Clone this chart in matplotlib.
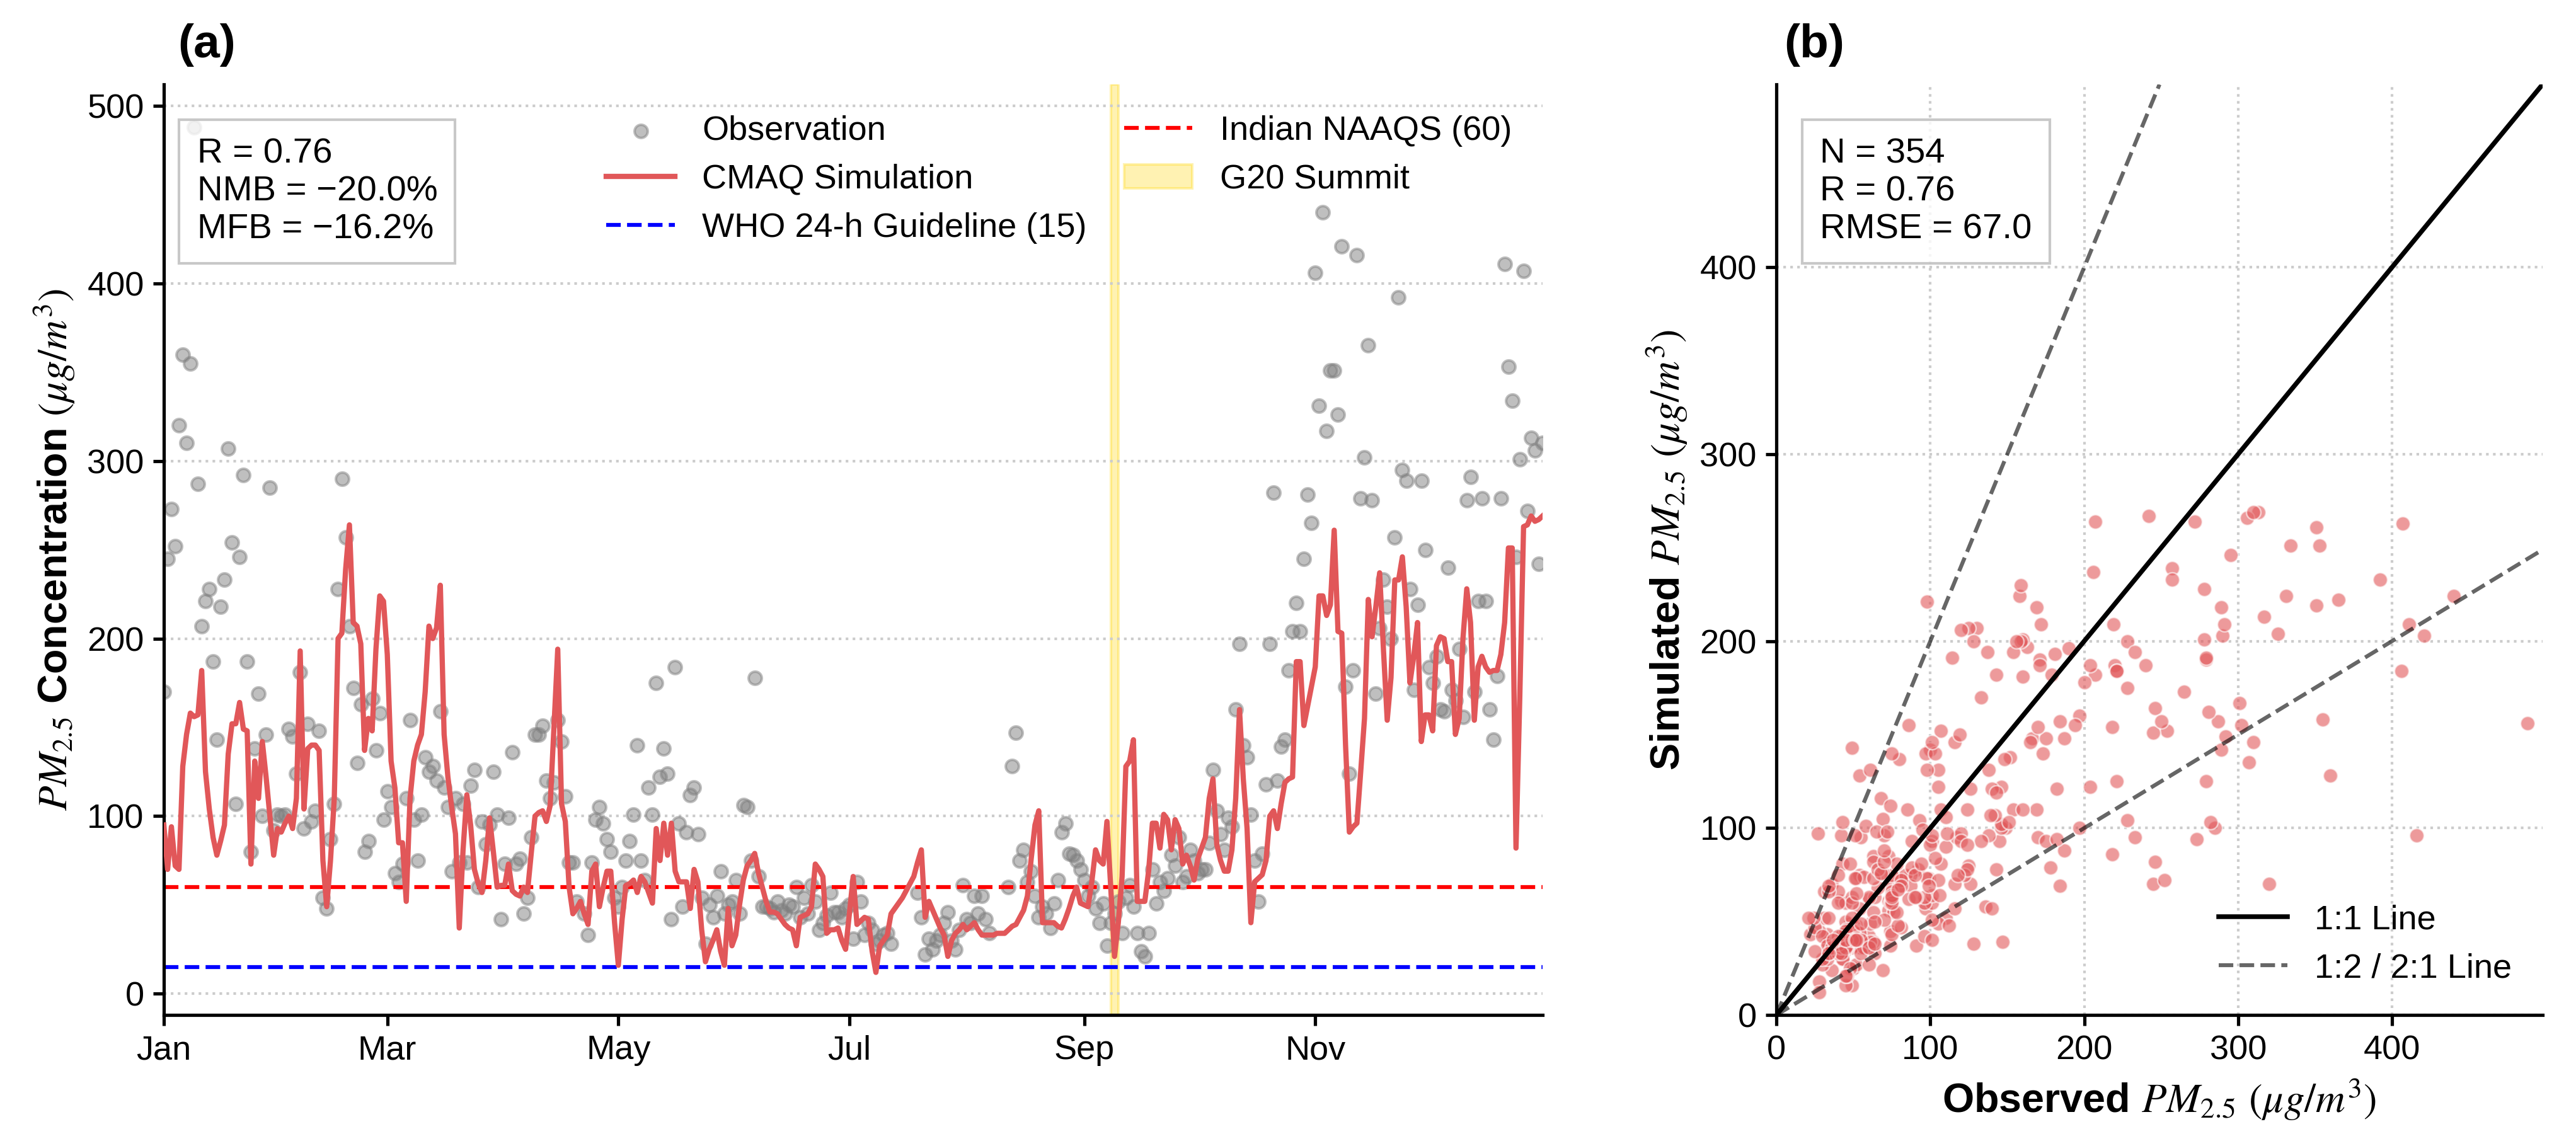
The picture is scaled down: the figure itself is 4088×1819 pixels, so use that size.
import numpy as np
import pandas as pd
import matplotlib
matplotlib.use('Agg')
import matplotlib.pyplot as plt
import matplotlib.dates as mdates

plt.rcParams['font.family'] = ['Liberation Sans', 'DejaVu Sans']
plt.rcParams['mathtext.fontset'] = 'stix'

nan = np.nan

# daily dates (2023)
dates = pd.date_range('2023-01-01', '2023-12-31', freq='D')

# CMAQ simulated daily PM2.5 (ug/m3)
sim = [
    95, 70, 94, 72, 70, 128, 146, 158, 156, 157,
    182, 125, 104, 88, 78, 86, 95, 135, 152, 152,
    164, 149, 148, 73, 131, 110, 142, 122, 100, 78,
    93, 91, 96, 100, 93, 110, 193, 104, 138, 140,
    140, 137, 75, 49, 75, 110, 200, 203, 239, 264,
    209, 207, 197, 137, 155, 148, 194, 224, 221, 191,
    131, 116, 85, 85, 52, 110, 131, 140, 146, 170,
    207, 200, 206, 230, 146, 122, 105, 90, 37, 81,
    112, 95, 70, 62, 57, 75, 99, 80, 60, 61,
    61, 73, 58, 56, 55, 60, 57, 79, 100, 102,
    103, 97, 106, 150, 194, 107, 97, 60, 45, 48,
    52, 45, 39, 69, 73, 49, 60, 69, 69, 40,
    16, 42, 61, 62, 64, 57, 66, 63, 57, 51,
    93, 75, 96, 78, 96, 69, 63, 63, 63, 48,
    70, 63, 36, 18, 25, 30, 36, 24, 16, 48,
    27, 33, 50, 64, 72, 75, 79, 68, 60, 52,
    46, 46, 45, 42, 39, 37, 36, 27, 43, 44,
    45, 49, 73, 70, 66, 34, 36, 36, 37, 30,
    25, 45, 66, 39, 41, 43, 42, 24, 12, 27,
    30, 33, 45, 48, 51, 54, 58, 62, 66, 74,
    81, 43, 52, 47, 42, 37, 33, 21, 30, 34,
    36, 39, 36, 38, 40, 36, 33, 33, 33, 33,
    34, 34, 34, 36, 38, 39, 43, 47, 55, 76,
    95, 103, 40, 40, 40, 40, 38, 37, 42, 48,
    55, 60, 51, 50, 49, 63, 81, 75, 73, 97,
    60, 21, 40, 66, 128, 131, 143, 52, 52, 52,
    69, 96, 96, 82, 101, 98, 81, 98, 93, 73,
    78, 72, 64, 76, 82, 88, 110, 121, 84, 75,
    69, 69, 81, 110, 160, 121, 93, 40, 63, 65,
    67, 75, 100, 103, 93, 107, 119, 121, 122, 187,
    187, 151, 162, 173, 184, 224, 224, 213, 219, 261,
    204, 203, 140, 91, 94, 96, 125, 155, 222, 201,
    218, 237, 194, 154, 178, 233, 233, 246, 218, 175,
    190, 209, 142, 157, 157, 148, 196, 201, 200, 187,
    187, 146, 155, 200, 228, 209, 154, 184, 190, 184,
    181, 182, 182, 191, 209, 251, 251, 82, 167, 263,
    264, 269, 266, 267, 269,
]

# observed daily PM2.5 (ug/m3), nan = missing
obs = [
    170, 245, 273, 252, 320, 360, 310, 355, 488, 287,
    207, 221, 228, 187, 143, 218, 233, 307, 254, 107,
    246, 292, 187, 80, 138, 169, 100, 146, 285, 92,
    101, 100, 101, 149, 145, 124, 181, 93, 152, 97,
    103, 148, 54, 48, 87, 107, 228, 290, 257, 207,
    172, 130, 163, 80, 86, 166, 137, 158, 98, 114,
    105, 68, 63, 73, 110, 154, 98, 75, 101, 133,
    125, 128, 120, 159, 116, 105, 69, 110, 74, 107,
    74, 117, 126, 60, 97, 84, 95, 125, 101, 42,
    73, 99, 136, 73, 76, 45, 54, 88, 146, 146,
    151, 120, 110, 119, 154, 142, 111, 74, 74, 52,
    nan, 45, 33, 74, 98, 105, 96, 87, 80, 54,
    49, 60, 75, 86, 101, 140, 75, 64, 116, 101,
    175, 122, 138, 124, 42, 184, 96, 49, 91, 112,
    116, 90, 54, 28, 50, 43, 55, 69, 45, 50,
    52, 64, 45, 106, 105, 75, 178, 66, 49, 49,
    48, 46, 52, 47, 45, 50, 49, 60, 43, 54,
    45, 61, 52, 36, 40, 44, 57, 46, 46, 43,
    48, 50, 31, 63, 52, 33, 40, 36, 28, 30,
    33, 34, 28, nan, nan, nan, nan, nan, nan, 57,
    43, 22, 31, 25, 30, 33, 40, 46, 30, 25,
    36, 61, 42, 40, 55, 45, 55, 42, 34, nan,
    nan, nan, nan, 60, 128, 147, 75, 81, 63, 69,
    55, 43, 49, 45, 37, 51, 64, 91, 96, 79,
    78, 75, 70, 64, 55, 60, 48, 40, 51, 27,
    40, 45, 52, 34, 54, 61, 49, 34, 24, 21,
    34, 70, 51, 63, 58, 65, 78, 72, 88, 63,
    66, 81, 75, 68, 70, 70, 85, 126, 103, 90,
    81, 99, 94, 160, 197, 140, 133, 101, 75, 52,
    79, 118, 197, 282, 120, 139, 143, 182, 204, 220,
    204, 245, 281, 265, 406, 331, 440, 317, 351, 351,
    326, 421, 173, 124, 182, 416, 279, 302, 365, 278,
    169, 206, 233, 218, 200, 257, 392, 295, 289, 228,
    171, 219, 289, 250, 184, 175, 190, 160, 159, 240,
    171, 165, 194, 156, 278, 291, 170, 221, 279, 221,
    160, 143, 179, 279, 411, 353, 334, 246, 301, 407,
    272, 313, 306, 242, 310,
]

who_limit = 15
naaqs_limit = 60
g20_start = '2023-09-08'
g20_end = '2023-09-10'

stats_a = 'R = 0.76\nNMB = \u221220.0%\nMFB = \u221216.2%'
stats_b = 'N = 354\nR = 0.76\nRMSE = 67.0'

sim = np.array(sim, dtype=float)
obs = np.array(obs, dtype=float)
valid = ~np.isnan(obs)

fig = plt.figure(figsize=(4088 / 300, 1819 / 300), dpi=300)
ax1 = fig.add_axes([0.0636, 0.1143, 0.5352, 0.812])
ax2 = fig.add_axes([0.6896, 0.1143, 0.2974, 0.812])

red = '#E15759'
box = dict(boxstyle='square,pad=0.5', facecolor='white', edgecolor='#bbbbbb', alpha=0.8)

# ---- (a) time series
span = ax1.axvspan(pd.Timestamp(g20_start), pd.Timestamp(g20_end), color='gold', alpha=0.3, zorder=1)
sc = ax1.scatter(dates, obs, color='gray', alpha=0.5, s=25, zorder=2)
ln, = ax1.plot(dates, sim, color=red, lw=2, zorder=3)
who = ax1.axhline(who_limit, color='blue', ls='--', lw=1.5, zorder=2)
naaqs = ax1.axhline(naaqs_limit, color='red', ls='--', lw=1.5, zorder=2)

ax1.set_xlim(dates[0], dates[-1])
ax1.set_ylim(-12, 512)
ax1.set_yticks(range(0, 501, 100))
ax1.xaxis.set_major_locator(mdates.MonthLocator(bymonth=[1, 3, 5, 7, 9, 11]))
ax1.xaxis.set_major_formatter(mdates.DateFormatter('%b'))
ax1.grid(axis='y', ls=':', color='#cccccc', lw=1)
ax1.set_ylabel(r'$PM_{2.5}$ Concentration $(\mu g/m^3)$', fontsize=15.5, fontweight='bold')

ax1.legend([sc, ln, who, naaqs, span],
           ['Observation', 'CMAQ Simulation', 'WHO 24-h Guideline (15)',
            'Indian NAAQS (60)', 'G20 Summit'],
           loc='upper right', ncol=2, frameon=False, fontsize=13, columnspacing=1.1)
ax1.text(0.024, 0.943, stats_a, transform=ax1.transAxes, fontsize=13.5, va='top',
         bbox=box, zorder=5)
ax1.text(0.01, 1.029, '(a)', transform=ax1.transAxes, fontsize=18, fontweight='bold')

# ---- (b) scatter
lim = max(np.nanmax(obs), sim.max()) * 1.02
ax2.scatter(obs[valid], sim[valid], color=red, alpha=0.6, s=30, edgecolors='white', linewidths=0.6, zorder=2)
ax2.plot([0, lim], [0, lim], color='k', lw=1.8, label='1:1 Line', zorder=3)
ax2.plot([0, lim], [0, lim / 2], color='k', alpha=0.6, ls='--', lw=1.5, label='1:2 / 2:1 Line', zorder=3)
ax2.plot([0, lim / 2], [0, lim], color='k', alpha=0.6, ls='--', lw=1.5, zorder=3)
ax2.set_xlim(0, lim)
ax2.set_ylim(0, lim)
ax2.set_xticks(range(0, 401, 100))
ax2.set_yticks(range(0, 401, 100))
ax2.grid(ls=':', color='#cccccc', lw=1)
ax2.set_xlabel(r'Observed $PM_{2.5}$ $(\mu g/m^3)$', fontsize=15.5, fontweight='bold')
ax2.set_ylabel(r'Simulated $PM_{2.5}$ $(\mu g/m^3)$', fontsize=15.5, fontweight='bold')
ax2.legend(loc='lower right', frameon=False, fontsize=13)
ax2.text(0.057, 0.943, stats_b, transform=ax2.transAxes, fontsize=13.5, va='top',
         bbox=box, zorder=5)
ax2.text(0.01, 1.029, '(b)', transform=ax2.transAxes, fontsize=18, fontweight='bold')

for ax in (ax1, ax2):
    ax.spines['top'].set_visible(False)
    ax.spines['right'].set_visible(False)
    for s in ('left', 'bottom'):
        ax.spines[s].set_linewidth(1.25)
    ax.tick_params(labelsize=13, width=1.25, length=4)

fig.savefig('out.png', dpi=300)
